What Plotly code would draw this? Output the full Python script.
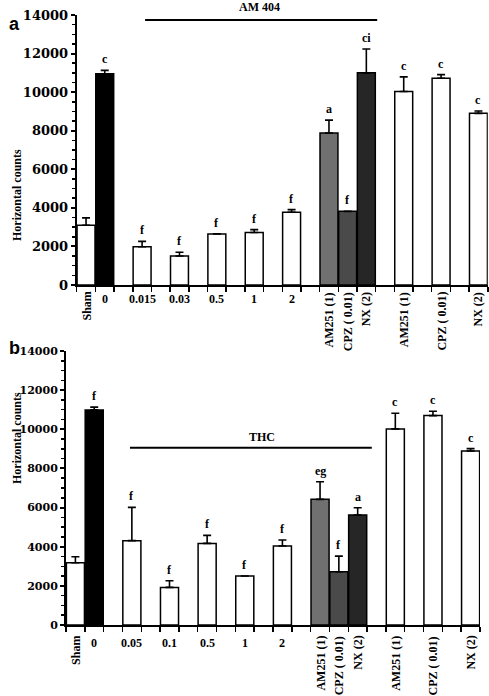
import plotly.graph_objects as go

# ---------------- data ----------------
labels_a = ["Sham", "0", "0.015", "0.03", "0.5", "1", "2",
            "AM251 (1)", "CPZ ( 0.01)", "NX (2)", "AM251 (1)", "CPZ ( 0.01)", "NX (2)"]
values_a = [3100, 10950, 1980, 1500, 2650, 2720, 3770, 7880, 3820, 11000, 10030, 10720, 8900]
errors_a = [380, 180, 280, 200, 0, 150, 140, 670, 0, 1240, 760, 190, 120]
letters_a = ["", "c", "f", "f", "f", "f", "f", "a", "f", "ci", "c", "c", "c"]

labels_b = ["Sham", "0", "0.05", "0.1", "0.5", "1", "2",
            "AM251 (1)", "CPZ ( 0.01)", "NX (2)", "AM251 (1)", "CPZ ( 0.01)", "NX (2)"]
values_b = [3180, 10990, 4310, 1920, 4170, 2500, 4040, 6420, 2720, 5620, 10020, 10700, 8890]
errors_b = [310, 140, 1700, 340, 410, 0, 300, 900, 800, 370, 800, 225, 120]
letters_b = ["", "f", "f", "f", "f", "f", "f", "eg", "f", "a", "c", "c", "c"]

y_ticks = [0, 2000, 4000, 6000, 8000, 10000, 12000, 14000]

# ---------------- layout constants ----------------
W, H = 489, 696
slots = [0, 1, 3, 5, 7, 9, 11, 13, 14, 15, 17, 19, 21]
bar_colors = ["white", "black", "white", "white", "white", "white", "white",
              "#707070", "#4a4a4a", "#262626", "white", "white", "white"]
SERIF = "Liberation Serif"

fig = go.Figure()


def add_panel(xa, ya, vals, errs):
    fig.add_trace(go.Bar(
        x=slots, y=vals, width=0.96,
        marker=dict(color=bar_colors, line=dict(color="black", width=1.5)),
        error_y=dict(type="data", array=errs, arrayminus=[0] * len(errs),
                     symmetric=False, color="black", thickness=1.6, width=4),
        xaxis=xa, yaxis=ya, showlegend=False, hoverinfo="skip"))


add_panel("x", "y", values_a, errors_a)
add_panel("x2", "y2", values_b, errors_b)


def xaxis_cfg(px0, px1, anchor):
    return dict(domain=[px0 / W, px1 / W], range=[-0.5, 21.5], anchor=anchor,
                showgrid=False, zeroline=False, showline=True, linewidth=2,
                linecolor="black", ticks="outside", ticklen=5, tickwidth=1.5,
                tickcolor="black", tickmode="linear", tick0=-0.5, dtick=1,
                showticklabels=False, fixedrange=True, automargin=False)


def yaxis_cfg(top_px, bot_px, anchor, fsize):
    return dict(domain=[1 - bot_px / H, 1 - top_px / H], range=[0, 14000], anchor=anchor,
                showgrid=False, zeroline=False, showline=True, linewidth=2,
                linecolor="black", ticks="outside", ticklen=4, tickwidth=2,
                tickcolor="black", tickmode="array", tickvals=y_ticks,
                ticktext=[str(v) for v in y_ticks],
                tickfont=dict(family="DejaVu Serif", size=fsize, color="black", weight="bold"),
                minor=dict(dtick=500, ticks="outside", ticklen=3, tickwidth=1.5, tickcolor="black"),
                fixedrange=True, automargin=False)


annotations = []
shapes = []


def panel_text(xref, yref, labels, vals, errs, letters, lab_shift, lab_size):
    for s, lab, v, e, let in zip(slots, labels, vals, errs, letters):
        if let:
            annotations.append(dict(x=s, y=v + e, xref=xref, yref=yref, text=let,
                                    showarrow=False, yanchor="bottom", yshift=2,
                                    font=dict(family=SERIF, size=12, color="black", weight="bold")))
        numeric = lab.replace(".", "").isdigit()
        annotations.append(dict(x=s, y=0, xref=xref, yref=yref, text=lab, showarrow=False,
                                yanchor="top", xanchor="center", yshift=lab_shift,
                                textangle=0 if numeric else -90,
                                font=dict(family=SERIF, size=lab_size, color="black", weight="bold")))


panel_text("x", "y", labels_a, values_a, errors_a, letters_a, -5, 12)
panel_text("x2", "y2", labels_b, values_b, errors_b, letters_b, -9, 12)

# group lines and labels
shapes.append(dict(type="line", xref="x", yref="y", x0=3.16, x1=15.58, y0=13740, y1=13740,
                   line=dict(color="black", width=2)))
annotations.append(dict(x=9.26, y=1, xref="x", yref="paper", text="AM 404",
                        showarrow=False, yanchor="top", yshift=2,
                        font=dict(family=SERIF, size=12, color="black", weight="bold")))
shapes.append(dict(type="line", xref="x2", yref="y2", x0=2.9, x1=15.75, y0=9060, y1=9060,
                   line=dict(color="black", width=2)))
annotations.append(dict(x=9.9, y=9600, xref="x2", yref="y2", text="THC", showarrow=False,
                        font=dict(family=SERIF, size=12, color="black", weight="bold")))

# axis titles and panel letters
for ycen in (147, 486):
    annotations.append(dict(x=8 / W, y=1 - ycen / H, xref="paper", yref="paper",
                            text="Horizontal counts", showarrow=False, textangle=-90,
                            font=dict(family=SERIF, size=12, color="black", weight="bold")))
annotations.append(dict(x=7 / W, y=1 - 12 / H, xref="paper", yref="paper", text="a",
                        showarrow=False, font=dict(family="Liberation Sans", size=18,
                                                   color="black", weight="bold")))
annotations.append(dict(x=7 / W, y=1 - 348 / H, xref="paper", yref="paper", text="b",
                        showarrow=False, font=dict(family="Liberation Sans", size=18,
                                                   color="black", weight="bold")))

fig.update_layout(
    width=W, height=H, margin=dict(l=0, r=0, t=0, b=0, autoexpand=False),
    paper_bgcolor="white", plot_bgcolor="white", showlegend=False,
    bargap=0,
    xaxis=xaxis_cfg(76.7, 487.8, "y"),
    yaxis=yaxis_cfg(15, 285, "x", 13),
    xaxis2=xaxis_cfg(66, 480, "y2"),
    yaxis2=yaxis_cfg(351, 625, "x2", 11),
    annotations=annotations, shapes=shapes,
)

fig.write_html("out.html", config={"displayModeBar": False, "staticPlot": True},
               post_script="document.body.style.margin='0';document.body.style.overflow='hidden';")
